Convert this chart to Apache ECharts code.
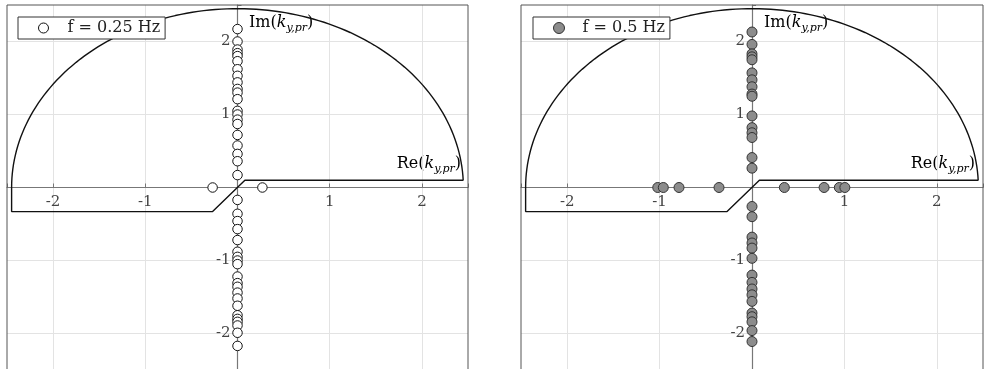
<!DOCTYPE html>
<html>
<head>
<meta charset="utf-8">
<script src="https://cdn.jsdelivr.net/npm/echarts@6/dist/echarts.min.js"></script>
<style>
  html, body { margin: 0; padding: 0; background: #fff; }
  #chart { width: 986px; height: 369px; }
</style>
</head>
<body>
<div id="chart"></div>
<script>
// poles on the imaginary axis, f = 0.25 Hz
const imag025 = [2.17, 2.0, 1.89, 1.84, 1.80, 1.73, 1.62, 1.53, 1.44, 1.35, 1.30, 1.21, 1.05, 1.0, 0.93, 0.87, 0.72, 0.575, 0.46, 0.36, 0.17,
  -0.17, -0.36, -0.46, -0.57, -0.72, -0.88, -0.95, -1.0, -1.05, -1.22, -1.31, -1.36, -1.44, -1.52, -1.62, -1.75, -1.80, -1.84, -1.89, -1.99, -2.17];
// poles on the real axis, f = 0.25 Hz
const real025 = [-0.27, 0.27];

// f = 0.5 Hz
const imag05 = [2.13, 1.96, 1.83, 1.79, 1.75, 1.57, 1.475, 1.38, 1.28, 1.25, 0.98, 0.82, 0.75, 0.685, 0.41, 0.265,
  -0.26, -0.40, -0.68, -0.76, -0.83, -0.97, -1.2, -1.30, -1.39, -1.47, -1.56, -1.72, -1.77, -1.84, -1.96, -2.11];
const real05 = [-1.02, -0.96, -0.79, -0.357, 0.35, 0.78, 0.945, 1.005];

// integration contour: big half circle + indented path round the origin
const contourRadius = 2.45;
const contourStep = [[-2.45, -0.33], [-0.27, -0.33], [0.08, 0.10], [2.45, 0.10]];

const axisMin = -2.5, axisMax = 2.5;

function buildContour() {
  const pts = [];
  const a0 = Math.asin(contourStep[3][1] / contourRadius);
  const n = 120;
  for (let i = 0; i <= n; i++) {
    const a = a0 + (Math.PI - a0) * i / n;
    pts.push([contourRadius * Math.cos(a), contourRadius * Math.sin(a)]);
  }
  contourStep.forEach(p => pts.push(p));
  return pts;
}

function poles(imag, real) {
  return imag.map(v => [0, v]).concat(real.map(v => [v, 0]));
}

const serif = '"DejaVu Serif", "Liberation Serif", serif';
const contour = buildContour();

const chart = echarts.init(document.getElementById('chart'));

const gridW = [461, 462], gridH = 365;

// axes sit on the zero lines: move them in from the grid edge
function makeAxis(idx, dir) {
  return {
    type: 'value',
    gridIndex: idx,
    min: axisMin,
    max: axisMax,
    position: dir === 'x' ? 'bottom' : 'left',
    offset: dir === 'x' ? -gridH / 2 : -gridW[idx] / 2,
    axisLine: { onZero: false, lineStyle: { color: '#777', width: 1.2 } },
    axisTick: { show: true, inside: true, length: 4, lineStyle: { color: '#777' } },
    splitLine: { show: true, showMinLine: false, showMaxLine: false, lineStyle: { color: '#e3e3e3', width: 1 } },
    axisLabel: {
      color: '#444',
      fontFamily: serif,
      fontSize: 15,
      margin: 7,
      formatter: v => (v === 0 || Math.abs(v) > 2.4) ? '' : String(v)
    }
  };
}

function axisName(text) {
  return '{n|' + text + '(}{i|k}{s|y,pr}{n|)}';
}
const nameRich = {
  n: { fontFamily: serif, fontSize: 16, color: '#444', lineHeight: 22 },
  i: { fontFamily: serif, fontSize: 16, fontStyle: 'italic', color: '#444', lineHeight: 22 },
  s: { fontFamily: serif, fontSize: 11, fontStyle: 'italic', color: '#444', verticalAlign: 'bottom', padding: [8, 0, 0, 0] }
};

const option = {
  animation: false,
  grid: [
    { left: 7, top: 5, width: gridW[0], height: gridH, outerBoundsMode: 'none', containLabel: false,
      show: true, borderColor: '#555', borderWidth: 1, z: 1 },
    { left: 521, top: 5, width: gridW[1], height: gridH, outerBoundsMode: 'none', containLabel: false,
      show: true, borderColor: '#555', borderWidth: 1, z: 1 }
  ],
  xAxis: [makeAxis(0, 'x'), makeAxis(1, 'x')],
  yAxis: [makeAxis(0, 'y'), makeAxis(1, 'y')],
  legend: [
    {
      data: ['f = 0.25 Hz'], left: 18, top: 17,
      borderColor: '#333', borderWidth: 1, borderRadius: 0, backgroundColor: '#fff',
      padding: [3, 5, 3, 20], icon: 'circle', itemWidth: 10, itemHeight: 10,
      itemStyle: { borderWidth: 1 },
      textStyle: { fontFamily: serif, fontSize: 16, color: '#222', padding: [0, 0, 0, 14] }
    },
    {
      data: ['f = 0.5 Hz'], left: 533, top: 17,
      borderColor: '#333', borderWidth: 1, borderRadius: 0, backgroundColor: '#fff',
      padding: [3, 5, 3, 20], icon: 'circle', itemWidth: 11, itemHeight: 11,
      itemStyle: { borderWidth: 1 },
      textStyle: { fontFamily: serif, fontSize: 16, color: '#222', padding: [0, 0, 0, 13] }
    }
  ],
  graphic: [
    { type: 'text', left: 249, top: 15, style: { text: axisName('Im'), rich: nameRich } },
    { type: 'text', right: 525, top: 156, style: { text: axisName('Re'), rich: nameRich } },
    { type: 'text', left: 764, top: 15, style: { text: axisName('Im'), rich: nameRich } },
    { type: 'text', right: 11, top: 156, style: { text: axisName('Re'), rich: nameRich } }
  ],
  series: [
    {
      type: 'line', xAxisIndex: 0, yAxisIndex: 0, data: contour,
      showSymbol: false, silent: true, lineStyle: { color: '#111', width: 1.4 }, z: 3
    },
    {
      name: 'f = 0.25 Hz', type: 'scatter', xAxisIndex: 0, yAxisIndex: 0,
      data: poles(imag025, real025), symbolSize: 9.5,
      itemStyle: { color: '#fff', borderColor: '#111', borderWidth: 1, opacity: 1 }, z: 4
    },
    {
      type: 'line', xAxisIndex: 1, yAxisIndex: 1, data: contour,
      showSymbol: false, silent: true, lineStyle: { color: '#111', width: 1.4 }, z: 3
    },
    {
      name: 'f = 0.5 Hz', type: 'scatter', xAxisIndex: 1, yAxisIndex: 1,
      data: poles(imag05, real05), symbolSize: 10,
      itemStyle: { color: '#8c8c8c', borderColor: '#333', borderWidth: 1, opacity: 1 }, z: 4
    }
  ]
};

chart.setOption(option);
</script>
</body>
</html>
